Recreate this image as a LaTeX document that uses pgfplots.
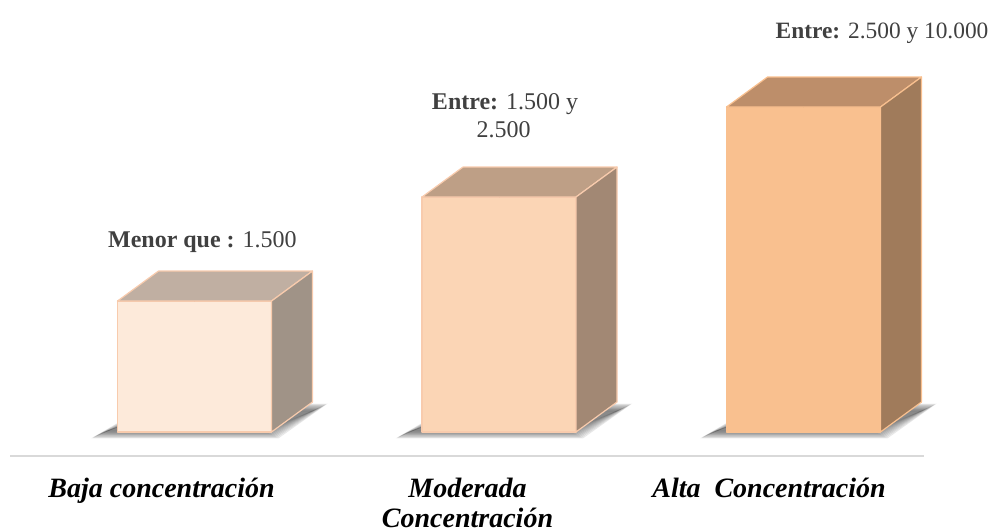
\documentclass[border=0pt]{standalone}
\usepackage{pgfplots}
\pgfplotsset{compat=1.18}
\usepackage{fontspec}
\setmainfont{Liberation Serif}

\definecolor{frontA}{HTML}{FDEADA}
\definecolor{topA}{HTML}{C0AFA2}
\definecolor{sideA}{HTML}{A09387}
\definecolor{frontB}{HTML}{FBD5B5}
\definecolor{topB}{HTML}{BE9F86}
\definecolor{sideB}{HTML}{A28874}
\definecolor{frontC}{HTML}{F9C08F}
\definecolor{topC}{HTML}{BD8E6A}
\definecolor{sideC}{HTML}{A07B5B}
\definecolor{edgeA}{HTML}{F8CBAD}
\definecolor{labelgray}{HTML}{404040}
\definecolor{floorline}{HTML}{D9D9D9}

% one 3D block per data point: #1 front, #2 top, #3 side, #4 edge
\pgfplotsset{
  cube/.style n args={4}{
    only marks, scatter, mark=*, mark size=0pt,
    mark options={draw=none, fill=none},
    visualization depends on={y \as \rawy},
    scatter/@pre marker code/.code={
      \pgfmathsetlengthmacro\cubeh{\rawy*16.25bp}
      \pgfmathsetlengthmacro\cubeb{15bp-\cubeh}
      % soft shadow on the floor
      \foreach \s in {0,0.7,...,7} {
        \fill[black, opacity=0.055]
          (-51bp+\s bp, -\cubeh-3bp+0.5*\s bp) -- (42bp-\s bp, -\cubeh-3bp+0.5*\s bp)
          -- (66bp-\s bp, -\cubeh+14bp-0.5*\s bp) -- (-22bp+\s bp, -\cubeh+14bp-0.5*\s bp) -- cycle;
      }
      \filldraw[fill=#1, draw=#4, line width=0.6bp, line join=round]
        (-38.5bp,-\cubeh) rectangle (38.5bp,0pt);
      \filldraw[fill=#2, draw=#4, line width=0.6bp, line join=round]
        (-38.5bp,0pt) -- (38.5bp,0pt) -- (59bp,15bp) -- (-18bp,15bp) -- cycle;
      \filldraw[fill=#3, draw=#4, line width=0.6bp, line join=round]
        (38.5bp,0pt) -- (59bp,15bp) -- (59bp,\cubeb) -- (38.5bp,-\cubeh) -- cycle;
    },
    scatter/@post marker code/.code={}
  }
}

\begin{document}
\begin{tikzpicture}
\begin{axis}[
    x=152.25bp, y=16.25bp,
    xmin=-0.6059, xmax=2.3957,
    ymin=-0.7385, ymax=13.292,
    axis x line*=bottom,
    axis y line=none,
    x axis line style={floorline, line width=1bp},
    xtick={-0.108,0.8966,1.8867},
    xticklabels={\strut Baja concentración, {\strut Moderada\\Concentración}, \strut Alta~~Concentración},
    major tick length=0pt,
    xticklabel style={font=\fontsize{14bp}{15bp}\selectfont\bfseries\itshape,
      align=center, anchor=north, inner sep=0pt, yshift=-10bp},
    clip=false,
]

% bar heights (front face, in chart units)
\addplot[cube={frontA}{topA}{sideA}{edgeA}] coordinates {(0,4.03)};
\addplot[cube={frontB}{topB}{sideB}{edgeA}] coordinates {(1,7.23)};
\addplot[cube={frontC}{topC}{sideC}{frontC}] coordinates {(2,10.0)};

% range labels above the bars
\begin{scope}[every node/.style={anchor=base, inner sep=0pt, text=labelgray,
    font=\fontsize{12bp}{13.5bp}\selectfont}]
\node at (axis cs:0.026,5.692) {\textbf{Menor que :} 1.500};
\node at (axis cs:1.020,9.908) {\textbf{Entre:} 1.500 y};
\node at (axis cs:1.015,9.077) {2.500};
\node[font=\fontsize{11.7bp}{13.5bp}\selectfont] at (axis cs:2.258,12.123) {\textbf{Entre:} 2.500 y 10.000};
\end{scope}

% page frame
\path (axis cs:-0.63875,13.2923) rectangle (axis cs:2.63547,-3.046);
\end{axis}
\end{tikzpicture}
\end{document}
